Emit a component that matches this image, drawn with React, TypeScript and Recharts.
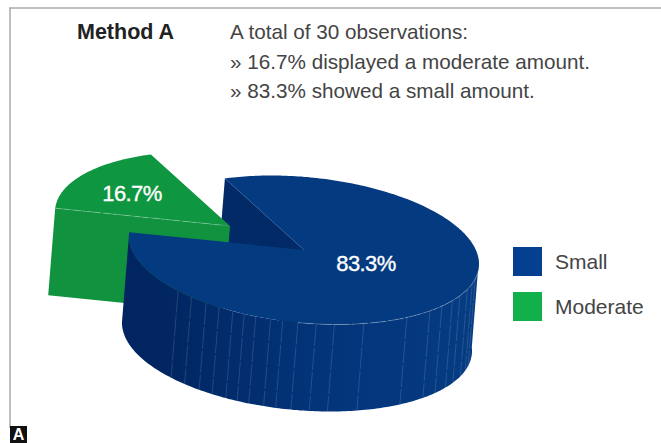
import { PieChart, Pie, Legend } from "recharts";

const categories = ["Small", "Moderate"];
const shares = [83.3, 16.7];
const legendColors = ["#04408f", "#12b04a"];
const noteLines = [
  "A total of 30 observations:",
  "» 16.7% displayed a moderate amount.",
  "» 83.3% showed a small amount.",
];
// angles of the thin facet lines on the round wall
const facetAngles = [
  224, 230, 236, 241, 246, 250, 254, 259, 263, 268, 274, 280, 290, 306, 316,
  322, 328, 333, 339, 344, 348,
];

const chartData = categories.map((name, i) => ({ name, value: shares[i] }));

const FONT = "'Liberation Sans', Arial, sans-serif";
const SQUASH = 0.418;
const SHEAR = 0.08;
const DEPTH_X = -7;
const DEPTH_Y = 87;
const EXPLODE = { x: -74, y: -24 };

type Pt = [number, number];

function rimPoint(cx: number, cy: number, r: number, deg: number): Pt {
  const rad = (deg * Math.PI) / 180;
  const dx = r * Math.cos(rad);
  const dy = -r * SQUASH * Math.sin(rad);
  return [cx + dx, cy + dy + SHEAR * dx];
}

function arcPoints(cx: number, cy: number, r: number, from: number, to: number) {
  const pts: Pt[] = [];
  const steps = Math.max(2, Math.ceil(Math.abs(to - from)));
  for (let i = 0; i <= steps; i++) {
    pts.push(rimPoint(cx, cy, r, from + ((to - from) * i) / steps));
  }
  return pts;
}

const down = (p: Pt): Pt => [p[0] + DEPTH_X, p[1] + DEPTH_Y];
const toPath = (pts: Pt[]) =>
  "M" + pts.map((p) => `${p[0].toFixed(1)},${p[1].toFixed(1)}`).join("L") + "Z";

function SliceLabel({ x, y, value }: { x: number; y: number; value: number }) {
  return (
    <text
      x={x}
      y={y}
      textAnchor="middle"
      dominantBaseline="central"
      fill="#fff"
      stroke="#fff"
      strokeWidth={0.35}
      fontFamily={FONT}
      fontSize={22}
      letterSpacing={-0.6}
    >
      {value}%
    </text>
  );
}

function BackLayer(props: any) {
  const { cx, cy, outerRadius: r, startAngle, endAngle, payload } = props;
  if (payload.name === "Small") {
    // inner cut face seen through the gap
    const corner = rimPoint(cx, cy, r, endAngle);
    const apex: Pt = [cx, cy];
    return <path d={toPath([corner, apex, down(apex), down(corner)])} fill="#012a66" />;
  }
  const ox = cx + EXPLODE.x;
  const oy = cy + EXPLODE.y;
  const apex: Pt = [ox, oy];
  const top = [apex, ...arcPoints(ox, oy, r, startAngle, endAngle)];
  const left = rimPoint(ox, oy, r, endAngle);
  return (
    <g>
      <path d={toPath([left, apex, down(apex), down(left)])} fill="#10923f" />
      <path d={toPath(top)} fill="#0f9640" />
      <line
        x1={left[0]}
        y1={left[1]}
        x2={apex[0]}
        y2={apex[1]}
        stroke="#ffffff"
        strokeOpacity={0.35}
        strokeWidth={0.7}
        strokeDasharray="14 2"
      />
      <SliceLabel x={ox - 98} y={oy - 33} value={payload.value} />
    </g>
  );
}

function FrontLayer(props: any) {
  const { cx, cy, outerRadius: r, startAngle, endAngle, payload } = props;
  if (payload.name !== "Small") return <g />;
  const wallEnd = 363;
  const rim = arcPoints(cx, cy, r, startAngle, wallEnd);
  const wall = [...rim, ...rim.slice().reverse().map(down)];
  const top: Pt[] = [[cx, cy], ...arcPoints(cx, cy, r, startAngle, endAngle)];
  const corner = rimPoint(cx, cy, r, endAngle);
  return (
    <g>
      <path d={toPath(wall)} fill="url(#wallShade)" />
      {facetAngles.map((a) => {
        const p = rimPoint(cx, cy, r, a);
        const q = down(p);
        return (
          <line
            key={a}
            x1={p[0]}
            y1={p[1]}
            x2={q[0]}
            y2={q[1]}
            stroke="#ffffff"
            strokeOpacity={0.2}
            strokeWidth={0.7}
            strokeDasharray="22 2"
          />
        );
      })}
      <path d={toPath(top)} fill="#043a80" />
      <path
        d={
          "M" +
          arcPoints(cx, cy, r, 268, 358)
            .map((p) => `${p[0].toFixed(1)},${p[1].toFixed(1)}`)
            .join("L")
        }
        fill="none"
        stroke="#ffffff"
        strokeOpacity={0.35}
        strokeWidth={0.7}
        strokeDasharray="16 2"
      />
      <line x1={corner[0]} y1={corner[1]} x2={cx} y2={cy} stroke="#2d5a9a" strokeWidth={0.6} />
      <SliceLabel x={cx + 62} y={cy + 13} value={payload.value} />
    </g>
  );
}

function LegendBox({ payload }: any) {
  const items = (payload || []).filter((item: any) => item.type !== "none");
  return (
    <div>
      {items.map((item: any, i: number) => (
        <div
          key={item.value}
          style={{ display: "flex", alignItems: "center", height: 29, marginBottom: 16 }}
        >
          <span
            style={{ width: 29, height: 29, background: legendColors[i], marginRight: 13 }}
          />
          <span style={{ fontFamily: FONT, fontSize: 21, color: "#444444" }}>{item.value}</span>
        </div>
      ))}
    </div>
  );
}

export default function App() {
  return (
    <div style={{ position: "absolute", left: 0, top: 0, width: 661, height: 443 }}>
      <PieChart width={661} height={443} margin={{ top: 0, right: 0, bottom: 0, left: 0 }}>
        <defs>
          <linearGradient id="wallShade" x1="0" y1="0" x2="1" y2="0">
            <stop offset="0.1" stopColor="#012560" />
            <stop offset="0.55" stopColor="#03347a" />
            <stop offset="1" stopColor="#053c82" />
          </linearGradient>
        </defs>
        <line x1={9} y1={8} x2={661} y2={8} stroke="#aaaaaa" strokeWidth={1.5} />
        <line x1={10} y1={8} x2={10} y2={428} stroke="#aaaaaa" strokeWidth={1.5} />
        <rect x={10} y={426} width={17} height={17} fill="#111" />
        <text x={18.5} y={440} textAnchor="middle" fill="#fff" fontFamily={FONT} fontWeight={700} fontSize={16}>
          A
        </text>
        <text x={77} y={39} fill="#222" fontFamily={FONT} fontWeight={700} fontSize={21.5}>
          Method A
        </text>
        {noteLines.map((line, i) => (
          <text key={line} x={230} y={39 + i * 29.5} fill="#444444" fontFamily={FONT} fontSize={20.7}>
            {line}
          </text>
        ))}
        <Pie
          data={chartData}
          dataKey="value"
          nameKey="name"
          cx={304}
          cy={250}
          outerRadius={175}
          startAngle={177}
          endAngle={537}
          stroke="none"
          legendType="none"
          isAnimationActive={false}
          shape={BackLayer}
        />
        <Pie
          data={chartData}
          dataKey="value"
          nameKey="name"
          cx={304}
          cy={250}
          outerRadius={175}
          startAngle={177}
          endAngle={537}
          stroke="none"
          isAnimationActive={false}
          shape={FrontLayer}
        />
        <Legend
          content={LegendBox}
          layout="vertical"
          itemSorter={null}
          wrapperStyle={{ position: "absolute", left: 513, top: 247, width: 148 }}
        />
      </PieChart>
    </div>
  );
}
